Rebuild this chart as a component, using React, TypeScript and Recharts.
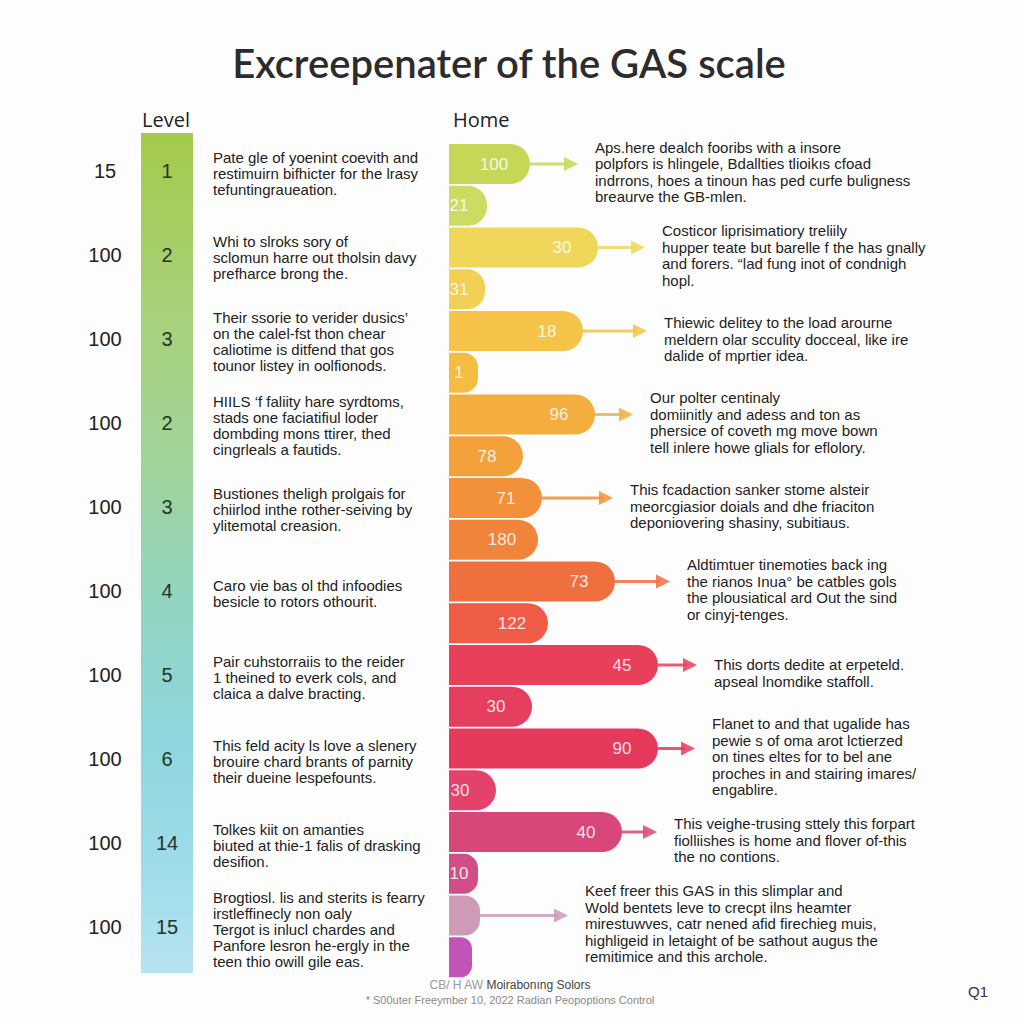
import React from 'react';
import { BarChart, Bar, XAxis, YAxis, Cell, LabelList } from 'recharts';

// Level column (left)
const levels = ['1', '2', '3', '2', '3', '4', '5', '6', '14', '15'];
const levelScores = ['15', '100', '100', '100', '100', '100', '100', '100', '100', '100'];
const levelNotes = [
  ['Pate gle of yoenint coevith and', 'restimuirn bifhicter for the lrasy', 'tefuntingraueation.'],
  ['Whi to slroks sory of', 'sclomun harre out tholsin davy', 'prefharce brong the.'],
  ['Their ssorie to verider dusics’', 'on the calel-fst thon chear', 'caliotime is ditfend that gos', 'tounor listey in oolfionods.'],
  ['HIILS ‘f faliity hare syrdtoms,', 'stads one faciatifiul loder', 'dombding mons ttirer, thed', 'cingrleals a fautids.'],
  ['Bustiones theligh prolgais for', 'chiirlod inthe rother-seiving by', 'ylitemotal creasion.'],
  ['Caro vie bas ol thd infoodies', 'besicle to rotors othourit.'],
  ['Pair cuhstorraiis to the reider', '1 theined to everk cols, and', 'claica a dalve bracting.'],
  ['This feld acity ls love a slenery', 'brouire chard brants of parnity', 'their dueine lespefounts.'],
  ['Tolkes kiit on amanties', 'biuted at thie-1 falis of drasking', 'desifion.'],
  ['Brogtiosl. lis and sterits is fearry', 'irstleffinecly non oaly', 'Tergot is inlucl chardes and', 'Panfore lesron he-ergly in the', 'teen thio owill gile eas.'],
];

// Home column (right)
const homeLabels = ['100', '21', '30', '31', '18', '1', '96', '78', '71', '180', '73', '122', '45', '30', '90', '30', '40', '10', '', ''];
const homeLengths = [81, 38, 149, 36, 134, 29, 146, 74, 93, 89, 166, 99, 209, 83, 209, 47, 173, 29, 31, 23];
const homeNotes = [
  ['Aps.here dealch fooribs with a insore', 'polpfors is hlingele, Bdallties tlioikıs cfoad', 'indrrons, hoes a tinoun has ped curfe buligness', 'breaurve the GB-mlen.'],
  [],
  ['Costicor liprisimatiory treliily', 'hupper teate but barelle f the has gnally', 'and forers. “lad fung inot of condnigh', 'hopl.'],
  [],
  ['Thiewic delitey to the load arourne', 'meldern olar scculity docceal, like ire', 'dalide of mprtier idea.'],
  [],
  ['Our polter centinaly', 'domiinitly and adess and ton as', 'phersice of coveth mg move bown', 'tell inlere howe glials for eflolory.'],
  [],
  ['This fcadaction sanker stome alsteir', 'meorcgiasior doials and dhe friaciton', 'deponiovering shasiny, subitiaus.'],
  [],
  ['Aldtimtuer tinemoties back ing', 'the rianos Inua° be catbles gols', 'the plousiatical ard Out the sind', 'or cinyj-tenges.'],
  [],
  ['This dorts dedite at erpeteld.', 'apseal lnomdike staffoll.'],
  [],
  ['Flanet to and that ugalide has', 'pewie s of oma arot lctierzed', 'on tines eltes for to bel ane', 'proches in and stairing imares/', 'engablire.'],
  [],
  ['This veighe-trusing sttely this forpart', 'fiolliishes is home and flover of-this', 'the no contions.'],
  [],
  ['Keef freer this GAS in this slimplar and', 'Wold bentets leve to crecpt ilns heamter', 'mirestuwves, catr nened afid firechieg muis,', 'highligeid in letaight of be sathout augus the', 'remitimice and this archole.'],
  [],
];

// styling
const homeColors = [
  '#c6d757', '#cedb62', '#f0d75a', '#f2cf55', '#f5c347', '#f5bc42', '#f4ae3d', '#f3a13a', '#f2913a', '#f0843a',
  '#ef6f3e', '#ee5c45', '#e8405a', '#e63e5e', '#e63a5c', '#e2426b', '#d9477a', '#cf4f86', '#cf9ab8', '#c054b8',
];
const arrowLengths = [48, 0, 47, 0, 64, 0, 38, 0, 71, 0, 55, 0, 39, 0, 37, 0, 35, 0, 88, 0];

const TEXT_FONT = '"Liberation Sans", Arial, sans-serif';

const levelData = levels.map((level, i) => ({ key: `L${i}`, level, span: 1, idx: i }));
const homeData = homeLengths.map((length, i) => ({ key: `H${i}`, length, idx: i }));

const renderLevelSide = (props: any) => {
  const { x, y, width, height, value } = props;
  const i = Number(value);
  const cy = y + height / 2;
  const lines = levelNotes[i];
  const start = cy - 2 - ((lines.length - 1) * 16) / 2;
  return (
    <g>
      <text x={x - 36} y={cy - 4} textAnchor="middle" dominantBaseline="central" fontSize={20} fill="#222" fontFamily={TEXT_FONT}>
        {levelScores[i]}
      </text>
      <text x={x + width + 20} fontSize={15} fill="#222" fontFamily={TEXT_FONT}>
        {lines.map((line, k) => (
          <tspan key={k} x={x + width + 20} y={start + k * 16} dominantBaseline="central">{line}</tspan>
        ))}
      </text>
    </g>
  );
};

const renderLevelNumber = (props: any) => {
  const { x, y, width, height, value } = props;
  return (
    <text x={x + width / 2} y={y + height / 2 - 4} textAnchor="middle" dominantBaseline="central" fontSize={20} fill="#263326" fontFamily={TEXT_FONT}>
      {value}
    </text>
  );
};

const renderHomeLabel = (props: any) => {
  const { x, y, width, height, value } = props;
  const i = Number(value);
  if (!homeLabels[i]) return null;
  const cx = Math.max(x + width - 36, x + 10);
  return (
    <text x={cx} y={y + height / 2} textAnchor="middle" dominantBaseline="central" fontSize={17} fill="#fff" fillOpacity={0.85} fontFamily={TEXT_FONT}>
      {homeLabels[i]}
    </text>
  );
};

const renderArrowNote = (props: any) => {
  const { x, y, width, height, value } = props;
  const i = Number(value);
  const lines = homeNotes[i];
  if (!lines.length) return null;
  const cy = y + height / 2;
  const x0 = x + width;
  const tip = x0 + arrowLengths[i];
  const color = homeColors[i];
  const start = cy + 8 - ((lines.length - 1) * 16.5) / 2;
  return (
    <g>
      <line x1={x0} y1={cy} x2={tip - 10} y2={cy} stroke={color} strokeWidth={3} strokeOpacity={0.85} />
      <polygon points={`${tip},${cy} ${tip - 14},${cy - 7} ${tip - 14},${cy + 7}`} fill={color} fillOpacity={0.85} />
      <text fontSize={15} fill="#1e1e1e" fontFamily={TEXT_FONT}>
        {lines.map((line, k) => (
          <tspan key={k} x={tip + 17} y={start + k * 16.5} dominantBaseline="central">{line}</tspan>
        ))}
      </text>
    </g>
  );
};

const App: React.FC = () => {
  return (
    <div style={{ position: 'absolute', left: 0, top: 0, width: 1024, height: 1024, background: '#fdfdfd', overflow: 'hidden' }}>
      <div style={{ position: 'absolute', left: 0, top: 0 }}>
        <BarChart
          width={460}
          height={1024}
          layout="vertical"
          data={levelData}
          margin={{ top: 133, bottom: 51, left: 141, right: 267 }}
          barCategoryGap={0}
        >
          <defs>
            <linearGradient id="levelGrad" gradientUnits="userSpaceOnUse" x1={0} y1={133} x2={0} y2={973}>
              <stop offset="0%" stopColor="#a4ca4b" />
              <stop offset="20%" stopColor="#a8d077" />
              <stop offset="40%" stopColor="#a0d49c" />
              <stop offset="55%" stopColor="#93d4bf" />
              <stop offset="72%" stopColor="#8dd6dd" />
              <stop offset="88%" stopColor="#a0dcea" />
              <stop offset="100%" stopColor="#b5e3ef" />
            </linearGradient>
          </defs>
          <XAxis type="number" domain={[0, 1]} hide />
          <YAxis type="category" dataKey="key" hide width={0} />
          <Bar dataKey="span" fill="url(#levelGrad)" isAnimationActive={false}>
            <LabelList dataKey="level" content={renderLevelNumber} />
            <LabelList dataKey="idx" content={renderLevelSide} />
          </Bar>
        </BarChart>
      </div>
      <div style={{ position: 'absolute', left: 0, top: 0 }}>
        <BarChart
          width={1024}
          height={1024}
          layout="vertical"
          data={homeData}
          margin={{ top: 143, bottom: 46, left: 449, right: 15 }}
          barCategoryGap={1}
        >
          <XAxis type="number" domain={[0, 560]} hide />
          <YAxis type="category" dataKey="key" hide width={0} />
          <Bar dataKey="length" radius={[0, 21, 21, 0]} isAnimationActive={false}>
            {homeData.map((d, i) => (
              <Cell key={d.key} fill={homeColors[i]} />
            ))}
            <LabelList dataKey="idx" content={renderHomeLabel} />
            <LabelList dataKey="idx" content={renderArrowNote} />
          </Bar>
        </BarChart>
      </div>
      <svg width={1024} height={1024} style={{ position: 'absolute', left: 0, top: 0, pointerEvents: 'none' }}>
        <text x={509} y={78} textAnchor="middle" fontSize={40} fontWeight={600} fill="#2c2c2c" fontFamily="Lato, 'Noto Sans', sans-serif">
          Excreepenater of the GAS scale
        </text>
        <text x={142} y={127} fontSize={20} fill="#222" fontFamily="'Open Sans', sans-serif">Level</text>
        <text x={453} y={127} fontSize={20} fill="#222" fontFamily="'Open Sans', sans-serif">Home</text>
        <text x={510} y={989} textAnchor="middle" fontSize={12} fontFamily={TEXT_FONT}>
          <tspan fill="#9a9a9a">CB/ H AW </tspan>
          <tspan fill="#444">Moirabonıng Solors</tspan>
        </text>
        <text x={510} y={1004} textAnchor="middle" fontSize={11} fill="#8a8a8a" fontFamily={TEXT_FONT}>
          * S00uter Freeymber 10, 2022 Radian Peopoptions Control
        </text>
        <text x={968} y={997} fontSize={15} fill="#333" fontFamily={TEXT_FONT}>Q1</text>
      </svg>
    </div>
  );
};

export default App;
